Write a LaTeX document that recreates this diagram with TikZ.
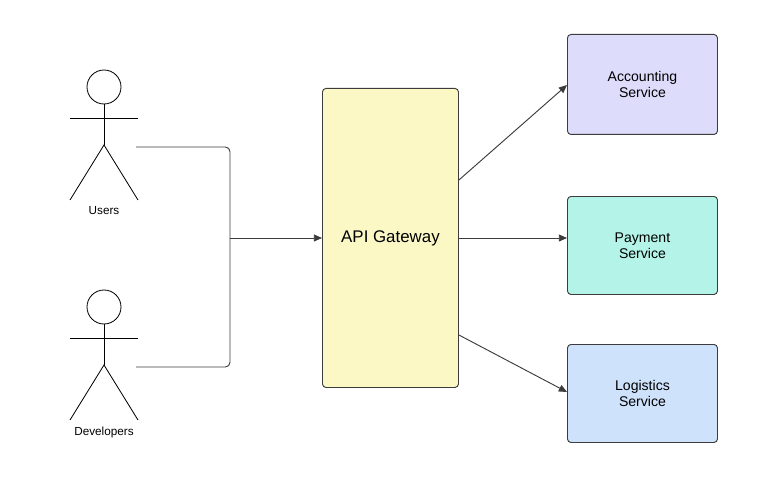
\documentclass[tikz,border=0pt]{standalone}
\usepackage{fontspec}
\setmainfont{Liberation Sans}
\usetikzlibrary{positioning,arrows.meta}
\definecolor{gatefill}{RGB}{251,248,198}
\definecolor{accfill}{RGB}{222,220,251}
\definecolor{payfill}{RGB}{180,243,232}
\definecolor{logfill}{RGB}{207,226,251}
\definecolor{edge}{RGB}{60,60,60}
\tikzstyle{box}=[draw=edge,line width=0.8pt,rounded corners=3pt,anchor=north west,inner sep=0pt]
\tikzstyle{actor}=[line width=0.7pt,draw=black]
\tikzstyle{link}=[draw=edge,line width=0.8pt,-{Triangle[length=7pt,width=6pt]}]
\newcommand{\stick}[2]{%
  \draw[actor] (#1,#2) circle (17);
  \draw[actor] (#1,#2+17) -- (#1,#2+58);
  \draw[actor] (#1-34,#2+31) -- (#1+34,#2+31);
  \draw[actor] (#1-34,#2+113) -- (#1,#2+58) -- (#1+34,#2+113);
}
\begin{document}
\begin{tikzpicture}[x=0.03cm,y=-0.03cm]
\useasboundingbox (0,0) rectangle (768,483);

\stick{104}{87}
\node[font=\normalsize] (users) at (104,211) {Users};
\stick{104}{307}
\node[font=\normalsize] (devs) at (104,432) {Developers};

\node[box,fill=gatefill,minimum width=136*0.03cm,minimum height=299*0.03cm] (gw) at (322,88) {};
\node[font=\Large] at (gw.center) {API Gateway};

\node[box,fill=accfill,minimum width=150*0.03cm,minimum height=100*0.03cm] (acc) at (567,34) {};
\node[align=center,font=\large] at (acc.center) {Accounting\\Service};
\node[box,fill=payfill,minimum width=150*0.03cm,minimum height=98*0.03cm] (pay) at (567,196) {};
\node[align=center,font=\large] at (pay.center) {Payment\\Service};
\node[box,fill=logfill,minimum width=150*0.03cm,minimum height=98*0.03cm] (log) at (567,344) {};
\node[align=center,font=\large] at (log.center) {Logistics\\Service};

\coordinate (u) at (136,147);
\coordinate (d) at (136,367);
\draw[draw=edge,line width=0.8pt,rounded corners=4pt] (u) -- (230,147) -- (230,238);
\draw[draw=edge,line width=0.8pt,rounded corners=4pt] (d) -- (230,367) -- (230,238);
\draw[link] (230,238) -- (gw.west |- 0,238);

\draw[link] (gw.east |- 0,180) -- (acc.west |- 0,85);
\draw[link] (gw.east |- 0,238) -- (pay.west |- 0,238);
\draw[link] (gw.east |- 0,335) -- (log.west |- 0,392);

\end{tikzpicture}
\end{document}
